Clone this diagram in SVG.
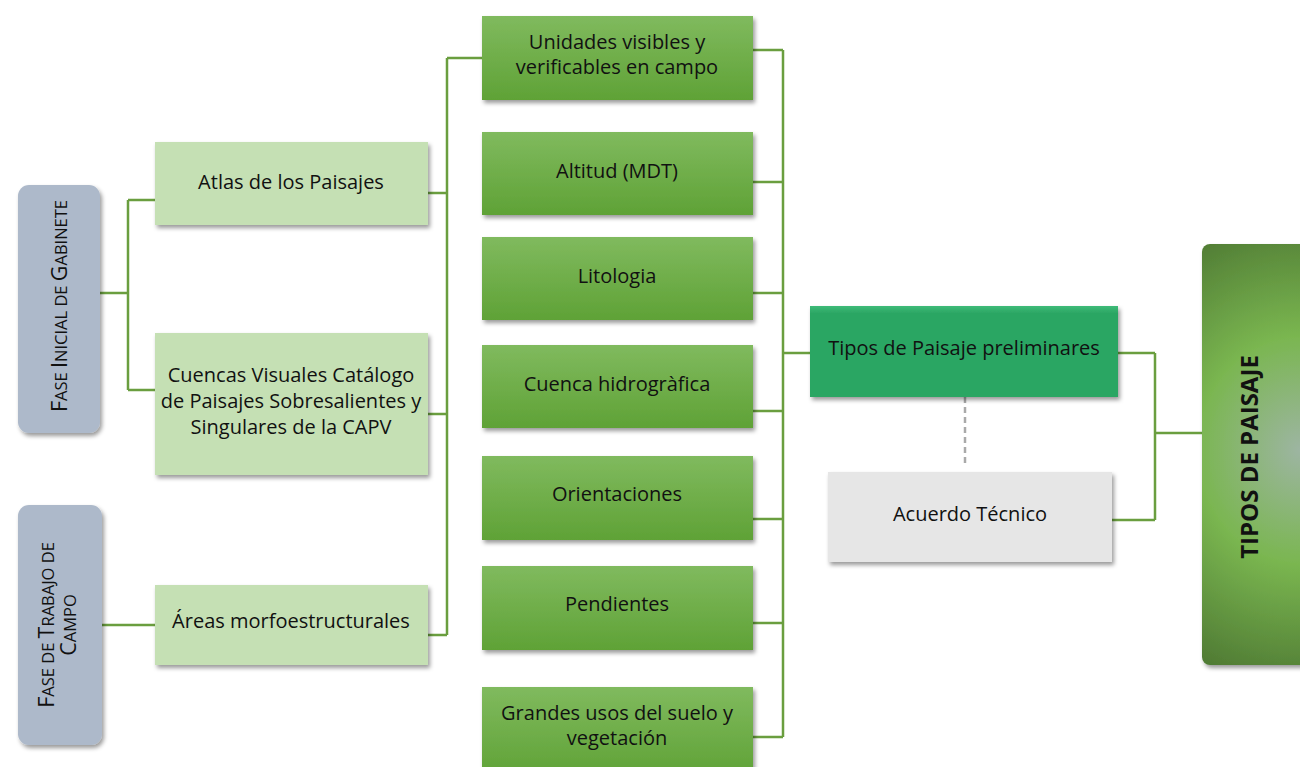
<svg xmlns="http://www.w3.org/2000/svg" width="1300" height="767" viewBox="0 0 1300 767">
<style>
.t{font-family:"Open Sans","Noto Sans","Liberation Sans",sans-serif;font-size:20px;fill:#111;text-anchor:middle}
.v{font-family:"Open Sans","Noto Sans","Liberation Sans",sans-serif;font-size:21.5px;fill:#111;text-anchor:middle}
.s{font-size:16.5px}
.b{font-family:"Open Sans","Noto Sans","Liberation Sans",sans-serif;font-size:24px;font-weight:bold;fill:#111;text-anchor:middle}
.c{fill:none;stroke:#6A9E3F;stroke-width:2.5}
.phase{fill:#ADB9CA}
.lg{fill:#C5E0B4}
.mg{fill:url(#gm)}
</style>
<defs>
<linearGradient id="gm" x1="0" y1="0" x2="0" y2="1">
<stop offset="0" stop-color="#80BA5E"/>
<stop offset="1" stop-color="#5FA236"/>
</linearGradient>
<linearGradient id="gt" x1="0" y1="0" x2="0" y2="1">
<stop offset="0" stop-color="#3EBB78"/>
<stop offset="0.08" stop-color="#2BA664"/>
<stop offset="1" stop-color="#2BA664"/>
</linearGradient>
<radialGradient id="gr" cx="1300" cy="450" r="230" gradientUnits="userSpaceOnUse" gradientTransform="translate(1300 450) scale(1 1.1) translate(-1300 -450)">
<stop offset="0" stop-color="#9DB5A2"/>
<stop offset="0.45" stop-color="#7AB650"/>
<stop offset="1" stop-color="#4A7330"/>
</radialGradient>
<filter id="sh" x="-10%" y="-10%" width="130%" height="130%">
<feDropShadow dx="2" dy="3" stdDeviation="2" flood-color="#000" flood-opacity="0.4"/>
</filter>
</defs>
<rect width="1300" height="767" fill="#fff"/>
<g id="connectors">
<path class="c" d="M100 293H128M128 200V390M128 200H155M128 390H155"/>
<path class="c" d="M102 625H155"/>
<path class="c" d="M428 193H447M428 414H447M428 635H447M447 58V635M447 58H482"/>
<path class="c" d="M753 50H783M753 182H783M753 293H783M753 411H783M753 519H783M753 623H783M753 737H783M783 50V737M783 353H810"/>
<path d="M965 397V467" fill="none" stroke="#AAAAAA" stroke-width="2.5" stroke-dasharray="6 4"/>
<path class="c" d="M1118 353H1155M1112 520H1155M1155 353V520M1155 433H1202"/>
</g>
<g id="n-fase-gabinete">
<rect class="phase" x="18" y="185" width="82" height="248" rx="11" filter="url(#sh)"/>
<text class="v" transform="translate(67 306) rotate(-90)">F<tspan class="s">ASE </tspan>I<tspan class="s">NICIAL DE </tspan>G<tspan class="s">ABINETE</tspan></text>
</g>
<g id="n-fase-campo">
<rect class="phase" x="18" y="505" width="84" height="240" rx="11" filter="url(#sh)"/>
<text class="v" transform="translate(54 625) rotate(-90)">F<tspan class="s">ASE DE </tspan>T<tspan class="s">RABAJO DE</tspan></text>
<text class="v" transform="translate(76 625) rotate(-90)">C<tspan class="s">AMPO</tspan></text>
</g>
<g id="n-atlas">
<rect class="lg" x="155" y="142" width="273" height="83" filter="url(#sh)"/>
<text class="t" x="291" y="189">Atlas de los Paisajes</text>
</g>
<g id="n-cuencas">
<rect class="lg" x="155" y="333" width="273" height="142" filter="url(#sh)"/>
<text class="t" x="291" y="382">Cuencas Visuales Catálogo</text>
<text class="t" x="291" y="408">de Paisajes Sobresalientes y</text>
<text class="t" x="291" y="434">Singulares de la CAPV</text>
</g>
<g id="n-areas">
<rect class="lg" x="155" y="585" width="273" height="80" filter="url(#sh)"/>
<text class="t" x="291" y="628">Áreas morfoestructurales</text>
</g>
<g id="n-unidades">
<rect class="mg" x="482" y="16" width="271" height="84" filter="url(#sh)"/>
<text class="t" x="617" y="49">Unidades visibles y</text>
<text class="t" x="617" y="74">verificables en campo</text>
</g>
<g id="n-altitud">
<rect class="mg" x="482" y="132" width="271" height="83" filter="url(#sh)"/>
<text class="t" x="617" y="178">Altitud (MDT)</text>
</g>
<g id="n-litologia">
<rect class="mg" x="482" y="237" width="271" height="83" filter="url(#sh)"/>
<text class="t" x="617" y="283">Litologia</text>
</g>
<g id="n-cuenca">
<rect class="mg" x="482" y="345" width="271" height="83" filter="url(#sh)"/>
<text class="t" x="617" y="391">Cuenca hidrogràfica</text>
</g>
<g id="n-orientaciones">
<rect class="mg" x="482" y="456" width="271" height="84" filter="url(#sh)"/>
<text class="t" x="617" y="501">Orientaciones</text>
</g>
<g id="n-pendientes">
<rect class="mg" x="482" y="566" width="271" height="84" filter="url(#sh)"/>
<text class="t" x="617" y="611">Pendientes</text>
</g>
<g id="n-grandes">
<rect class="mg" x="482" y="687" width="271" height="90" filter="url(#sh)"/>
<text class="t" x="617" y="720">Grandes usos del suelo y</text>
<text class="t" x="617" y="745">vegetación</text>
</g>
<g id="n-tipos-prelim">
<rect x="810" y="306" width="308" height="91" fill="url(#gt)" filter="url(#sh)"/>
<text class="t" x="964" y="355">Tipos de Paisaje preliminares</text>
</g>
<g id="n-acuerdo">
<rect x="828" y="472" width="284" height="90" fill="#E6E6E6" filter="url(#sh)"/>
<text class="t" x="970" y="521">Acuerdo Técnico</text>
</g>
<g id="n-tipos">
<rect x="1202" y="244" width="110" height="421" rx="8" fill="url(#gr)" filter="url(#sh)"/>
<text class="b" transform="translate(1258 457) rotate(-90)">TIPOS DE PAISAJE</text>
</g>
</svg>
